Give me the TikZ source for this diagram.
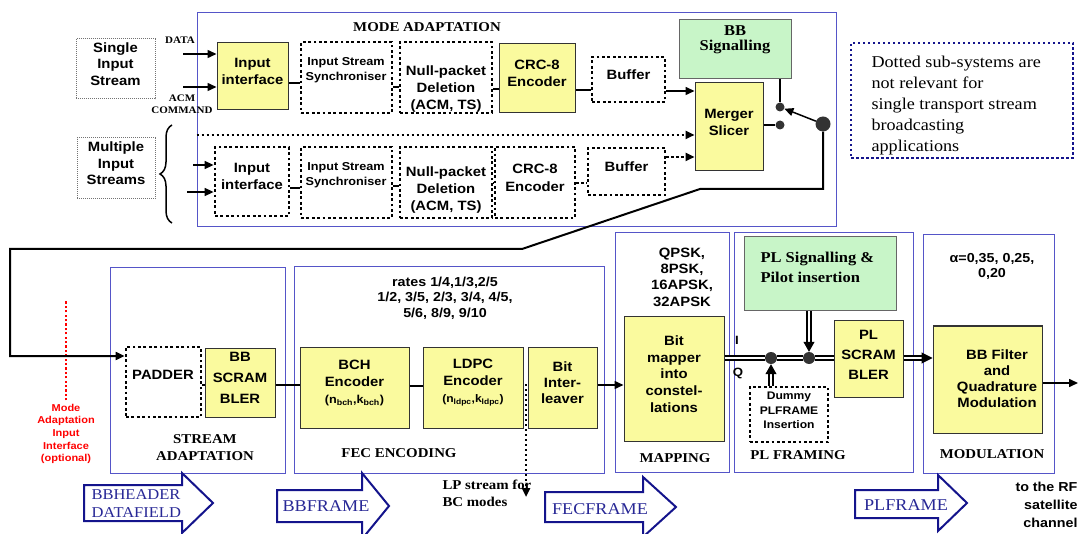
\documentclass[tikz,border=0pt]{standalone}
\usepackage{fontspec}
\setmainfont{Liberation Serif}[FakeStretch=1.1]
\setsansfont{Liberation Sans}[FakeStretch=1.1]
\usetikzlibrary{fit,arrows.meta,decorations.pathreplacing}
\definecolor{yel}{RGB}{250,250,158}
\definecolor{grn}{RGB}{200,245,200}
\definecolor{secblue}{RGB}{85,85,200}
\definecolor{navy}{RGB}{20,20,140}
\definecolor{arrtext}{RGB}{40,40,150}
\tikzset{
  sfb/.style={font=\sffamily\bfseries\fontsize{13.5}{17}\selectfont, align=center},
  ybox/.style={draw=black!80, line width=1pt, fill=yel, inner sep=0pt, sfb},
  gbox/.style={draw=black!60, line width=1pt, fill=grn, inner sep=0pt},
  dbox/.style={draw=black, line width=2.8pt, dash pattern=on 2.8pt off 2.6pt, inner sep=0pt, sfb},
  gdbox/.style={draw=black!55, line width=1pt, dash pattern=on 1pt off 1pt, inner sep=0pt, sfb, font=\sffamily\bfseries\fontsize{13.5}{16.5}\selectfont},
  sec/.style={draw=secblue, line width=1pt, inner sep=0pt},
  sfs/.style={font=\sffamily\bfseries\fontsize{11.5}{15.5}\selectfont, align=center},
  ttl/.style={font=\bfseries\fontsize{13.5}{17}\selectfont, align=center},
  conn/.style={line width=1.5pt},
  arr/.style={-{Triangle[length=9pt,width=8pt]}},
  dconn/.style={line width=2.4pt, dash pattern=on 2.4pt off 2.6pt},
  dbl/.style={double=white, double distance=2.5pt, line width=1.3pt},
  barrow/.style={draw=navy, line width=2pt, fill=white, line join=miter},
  atext/.style={text=arrtext, font=\fontsize{16.5}{18}\selectfont, align=left},
  dot/.style={circle, fill=black!80, inner sep=0pt, minimum size=#1},
}
\begin{document}
\begin{tikzpicture}[x=1pt,y=-1pt]
\useasboundingbox (0,0) rectangle (1086,534);

% ---------- MODE ADAPTATION ----------
\node[sec, fit={(197,13)(836,227)}] (ma) {};
\node[ttl] (mat) at (427,27) {MODE ADAPTATION};

\node[gdbox, fit={(76,39)(155,99)}] (sis) {Single\\Input\\Stream};
\node[gdbox, fit={(77,138)(155,199)}] (mis) {Multiple\\Input\\Streams};
\node[font=\bfseries\fontsize{10}{12}\selectfont] (data) at (180,40) {DATA};
\node[font=\bfseries\fontsize{10}{12}\selectfont, align=center] (acm) at (182,104) {ACM\\COMMAND};

\node[ybox, fit={(217,43)(288,110)}] (ii) {Input\\interface};
\node[dbox, fit={(301,42)(392,113)}] (sy) {};
\node[sfs] (syt) at (346,70) {Input Stream\\Synchroniser};
\node[dbox, fit={(400,42)(492,113)}] (np) {};
\node[sfb] (npt) at (446,89) {Null-packet\\Deletion\\(ACM, TS)};
\node[ybox, fit={(499,44)(575,113)}] (crc) {CRC-8\\Encoder};
\node[dbox, fit={(592,57)(665,102)}] (buf) {Buffer};
\node[gbox, fit={(679,20)(791,79)}] (bbs) {};
\node[ttl, font=\bfseries\fontsize{15}{15}\selectfont] (bbst) at (735,40) {BB\\Signalling};
\node[ybox, fit={(695,83)(763,171)}] (ms) {Merger\\Slicer};

\node[dbox, fit={(215,147)(289,216)}] (ii2) {Input\\interface};
\node[dbox, fit={(301,147)(392,218)}] (sy2) {};
\node[sfs] (sy2t) at (346,175) {Input Stream\\Synchroniser};
\node[dbox, fit={(400,147)(492,218)}] (np2) {};
\node[sfb] (np2t) at (446,190) {Null-packet\\Deletion\\(ACM, TS)};
\node[dbox, fit={(495,147)(575,218)}, font=\sffamily\bfseries\fontsize{13.5}{18}\selectfont] (crc2) {CRC-8\\Encoder};
\node[dbox, fit={(588,148)(665,195)}] (buf2) {Buffer};

\coordinate (d1) at (183,54);
\coordinate (d2) at (183,87);
\coordinate (d3) at (193,165);
\coordinate (d4) at (187,192);
\draw[conn, arr] (d1) -- (ii.west |- d1);
\draw[conn, arr] (d2) -- (ii.west |- d2);
\draw[conn, arr] (d3) -- (ii2.west |- d3);
\draw[conn, arr] (d4) -- (ii2.west |- d4);
\draw[line width=1.5pt, decorate, decoration={brace, amplitude=12pt}] (172,223) -- (172,125);

\draw[conn] (ii.east |- 0,83) -- (sy.west |- 0,83);
\draw[conn] (sy.east |- 0,87) -- (np.west |- 0,87);
\draw[conn] (np.east |- 0,89) -- (crc.west |- 0,89);
\draw[conn] (crc.east |- 0,90) -- (buf.west |- 0,90);
\draw[conn, arr] (buf.east |- 0,91) -- (ms.west |- 0,91);
\draw[dconn, arr] (ma.west |- 0,135) -- (ms.west |- 0,135);
\draw[conn] (ii2.east |- 0,188) -- (sy2.west |- 0,188);
\draw[conn] (sy2.east |- 0,186) -- (np2.west |- 0,186);
\draw[conn] (np2.east |- 0,183) -- (crc2.west |- 0,183);
\draw[dconn] (crc2.east |- 0,183) -- (buf2.west |- 0,183);
\draw[dconn, arr] (buf2.east |- 0,157) -- (ms.west |- 0,157);

\node[dot=9pt] (s1) at (780,107) {};
\node[dot=9pt] (s2) at (780,125) {};
\node[dot=15pt] (sw) at (823,124) {};
\draw[conn] (bbs.south -| s1) -- (s1);
\draw[conn] (ms.east |- s2) -- (s2);
\draw[conn, arr] (sw) -- (s1);

% note
\node[draw=navy, line width=2.5pt, dash pattern=on 2.5pt off 2.5pt, inner sep=0pt, fit={(851,43)(1073,158)}] (note) {};
\node[anchor=west, align=left, font=\fontsize{16.5}{21}\selectfont] (notet) at (868,106) {Dotted sub-systems are\\not relevant for\\single transport stream\\broadcasting\\applications};

% ---------- LOWER CHAIN ----------
\node[sec, fit={(110,268)(285,473)}] (sa) {};
\node[sec, fit={(294,267)(604,473)}] (fec) {};
\node[sec, fit={(615,233)(729,472)}] (map) {};
\node[sec, fit={(734,233)(913,472)}] (plf) {};
\node[sec, fit={(923,235)(1054,473)}] (mod) {};

% stream adaptation
\node[dbox, fit={(126,347)(201,417)}] (pd) {};
\node[sfb] (pdt) at (163,375) {PADDER};
\node[ybox, fit={(205,348)(275,417)}, font=\sffamily\bfseries\fontsize{13.5}{21}\selectfont] (bsc) {BB\\SCRAM\\BLER};
\node[ttl] (sat) at (205,448) {STREAM\\ADAPTATION};

\node[font=\sffamily\bfseries\fontsize{10}{12.7}\selectfont, text=red, align=center] (mai) at (66,434) {Mode\\Adaptation\\Input\\Interface\\(optional)};
\draw[red, line width=2.2pt, dash pattern=on 2.2pt off 2.2pt] (mai.north) -- ++(0,-100);

% FEC
\node[font=\sffamily\bfseries\fontsize{13}{15.5}\selectfont, align=center] (rates) at (445,298) {rates 1/4,1/3,2/5\\1/2, 3/5, 2/3, 3/4, 4/5,\\5/6, 8/9, 9/10};
\node[ybox, fit={(300,347)(409,428)}] (bch) {BCH\\Encoder\\{\fontsize{11.5}{17}\selectfont(n\textsubscript{bch},k\textsubscript{bch})}};
\node[ybox, fit={(423,347)(523,428)}] (ldpc) {LDPC\\Encoder\\{\fontsize{11}{17}\selectfont(n\textsubscript{ldpc},k\textsubscript{ldpc})}};
\node[ybox, fit={(528,347)(597,428)}, font=\sffamily\bfseries\fontsize{13.5}{16}\selectfont] (bi) {Bit\\Inter-\\leaver};
\node[ttl] (fect) at (399,453) {FEC ENCODING};
\node[ttl, align=left, anchor=west] (lpt) at (439,493) {LP stream for\\BC modes};
\coordinate (lp) at (526,384);
\coordinate (lpe) at (526,497);
\draw[dconn, arr] (lp) -- (lpe);

% Mapping
\node[font=\sffamily\bfseries\fontsize{13.5}{16.3}\selectfont, align=center] (qp) at (682,277) {QPSK,\\8PSK,\\16APSK,\\32APSK};
\node[ybox, fit={(624,317)(724,441)}, font=\sffamily\bfseries\fontsize{13.5}{16.7}\selectfont] (bm) {Bit\\mapper\\into\\constel-\\lations};
\node[ttl] (mapt) at (675,458) {MAPPING};

% PL framing
\node[gbox, fit={(744,237)(896,311)}] (plsig) {};
\node[anchor=west, align=left, font=\bfseries\fontsize{15}{20}\selectfont] (plsigt) at (757,267) {PL Signalling \&\\Pilot insertion};
\node[ybox, fit={(834,321)(903,397)}, font=\sffamily\bfseries\fontsize{13.5}{20}\selectfont] (pls) {PL\\SCRAM\\BLER};
\node[dbox, fit={(750,387)(828,442)}, font=\sffamily\bfseries\fontsize{11}{14.5}\selectfont] (dum) {Dummy\\PLFRAME\\Insertion};
\node[dot=12pt] (c1) at (771,358) {};
\node[dot=12pt] (c2) at (809,358) {};
\node[font=\sffamily\bfseries\fontsize{12}{14}\selectfont] (iI) at (737,340) {I};
\node[font=\sffamily\bfseries\fontsize{12}{14}\selectfont] (iQ) at (738,373) {Q};
\node[ttl] (plft) at (798,455) {PL FRAMING};

% Modulation
\node[font=\sffamily\bfseries\fontsize{13}{15}\selectfont, align=center] (alpha) at (992,266) {α=0,35, 0,25,\\0,20};
\node[ybox, fit={(933,326)(1042,433)}] (bbf) {};
\node[sfb, font=\sffamily\bfseries\fontsize{13.5}{16}\selectfont] (bbft) at (997,379) {BB Filter\\and\\Quadrature\\Modulation};
\node[ttl] (modt) at (992,454) {MODULATION};
\node[font=\sffamily\bfseries\fontsize{13}{18}\selectfont, align=right, anchor=east] (rf) at (1081,505) {to the RF\\satellite\\channel};
\coordinate (out) at (1078,383);

% connectors lower chain
\draw[line width=2pt, arr] (sw) -- (sw |- 0,189) -- (700,189) -- (522,249) -- (10,249) -- (10,356) -- (pd.west |- 0,356);
\draw[conn] (pd.east |- 0,385) -- (bsc.west |- 0,385);
\draw[conn] (bsc.east |- 0,385) -- (bch.west |- 0,385);
\draw[conn] (bch.east |- 0,386) -- (ldpc.west |- 0,386);
\draw[conn, arr] (bi.east |- 0,385) -- (bm.west |- 0,385);
\draw[dbl] (bm.east |- c1) -- (c1) -- (c2) -- (pls.west |- c2);
\draw[dbl] (plsig.south -| c2) -- ++(0,31) coordinate (t2);
\draw[line width=1pt, -{Triangle[length=10pt,width=11pt]}] (t2) -- (c2.north);
\draw[dbl] (dum.north -| c1) -- ++(0,-13) coordinate (t1);
\draw[line width=1pt, -{Triangle[length=10pt,width=11pt]}] (t1) -- (c1.south);
\draw[dbl] (pls.east |- c2) -- ++(18,0) coordinate (t3);
\draw[line width=1pt, -{Triangle[length=11pt,width=11pt]}] (t3) -- (bbf.west |- t3);
\draw[conn, arr] (bbf.east |- out) -- (out);

% block arrows
\draw[barrow] (84,485) -- (182,485) -- (182,473) -- (213,503) -- (182,533) -- (182,521) -- (84,521) -- cycle;
\node[atext, anchor=west, font=\fontsize{15}{18}\selectfont] (a1) at (88,504) {BBHEADER\\DATAFIELD};
\draw[barrow] (277,490) -- (362,490) -- (362,473) -- (389,506) -- (362,539) -- (362,522) -- (277,522) -- cycle;
\node[atext] (a2) at (326,506) {BBFRAME};
\draw[barrow] (545,492) -- (643,492) -- (643,477) -- (676,507) -- (643,537) -- (643,522) -- (545,522) -- cycle;
\node[atext] (a3) at (600,509) {FECFRAME};
\draw[barrow] (855,490) -- (938,490) -- (938,475) -- (967,503) -- (938,531) -- (938,518) -- (855,518) -- cycle;
\node[atext] (a4) at (906,505) {PLFRAME};
\end{tikzpicture}
\end{document}
